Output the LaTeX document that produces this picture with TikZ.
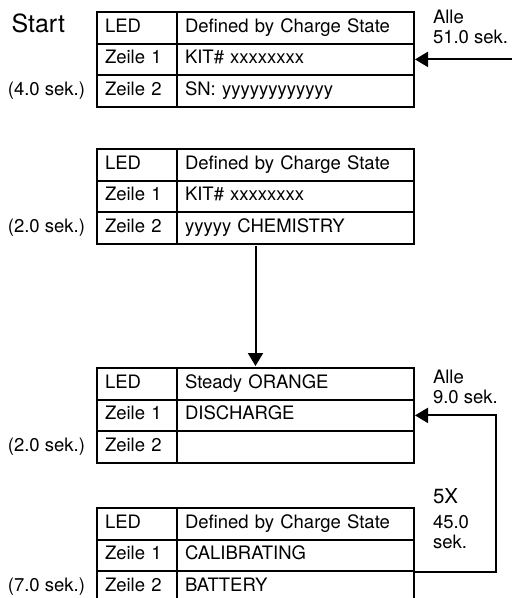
\documentclass[tikz,border=0pt]{standalone}
\usepackage{fontspec}
\setmainfont{TeX Gyre Heros}
\usetikzlibrary{matrix,positioning,calc,arrows.meta}

\begin{document}
\begin{tikzpicture}[
x=0.5pt,y=-0.5pt,
line width=1pt,
font=\fontsize{9.25}{10}\selectfont,
cella/.style={
  draw,
  inner xsep=4pt,
  inner ysep=0pt,
  text width=32pt,
  minimum height=15.8pt,
  text height=6.8pt,
  text depth=2.3pt,
  align=left},
cellb/.style={cella,text width=110.5pt},
screen/.style={
  matrix of nodes,
  nodes in empty cells,
  inner sep=0pt,
  anchor=north west,
  row sep=-\pgflinewidth,
  column sep=-\pgflinewidth,
  column 1/.style={nodes={cella}},
  column 2/.style={nodes={cellb}}},
lbl/.style={inner sep=0pt,align=left},
flow/.style={-{Triangle[length=6.5pt,width=7.5pt]}}
]
\useasboundingbox (0,0) rectangle (512,598);
% the four screens
\matrix (t1) [screen] at (95,10) {
  LED & Defined by Charge State \\
  Zeile 1 & KIT\# xxxxxxxx \\
  Zeile 2 & SN: yyyyyyyyyyyy \\
};
\matrix (t2) [screen] at (95,147) {
  LED & Defined by Charge State \\
  Zeile 1 & KIT\# xxxxxxxx \\
  Zeile 2 & yyyyy CHEMISTRY \\
};
\matrix (t3) [screen] at (95,366) {
  LED & Steady ORANGE \\
  Zeile 1 & DISCHARGE \\
  Zeile 2 & \\
};
\matrix (t4) [screen] at (95,506) {
  LED & Defined by Charge State \\
  Zeile 1 & CALIBRATING \\
  Zeile 2 & BATTERY \\
};
% times on the left
\node [lbl, left=15pt of t1-1-1.base west, anchor=base east,
  font=\fontsize{12.5}{14}\selectfont] (start) {Start};
\node [lbl, left=5pt of t1-3-1.base west, anchor=base east] (d1) {(4.0 sek.)};
\node [lbl, left=5pt of t2-3-1.base west, anchor=base east] (d2) {(2.0 sek.)};
\node [lbl, left=5pt of t3-3-1.base west, anchor=base east] (d3) {(2.0 sek.)};
\node [lbl, left=5pt of t4-3-1.base west, anchor=base east] (d4) {(7.0 sek.)};
% repeat labels on the right
\node [lbl, right=8.5pt of t1-1-2.north east, anchor=north west, yshift=1pt]
  (alle1) {Alle\\51.0 sek.};
\node [lbl, right=8.5pt of t3-1-2.north east, anchor=north west, yshift=-1pt]
  (alle3) {Alle\\9.0 sek.};
\node [lbl, right=8.5pt of t4-1-2.north east, anchor=base west, yshift=2pt,
  font=\fontsize{10.25}{12}\selectfont] (five) {5X};
\node [lbl, below=5.5pt of five.base west, anchor=north west] (loop) {45.0\\sek.};
% connectors
\coordinate (in1) at ($(t1-2-2.east)+(50pt,0)$);
\draw [flow] (in1) -- (t1-2-2.east);
\draw [flow] (t2.south) -- (t3.north);
\draw [flow] (t4-2-2.south east) -- ++(81,0) |- (t3-2-2.east);
\end{tikzpicture}
\end{document}
